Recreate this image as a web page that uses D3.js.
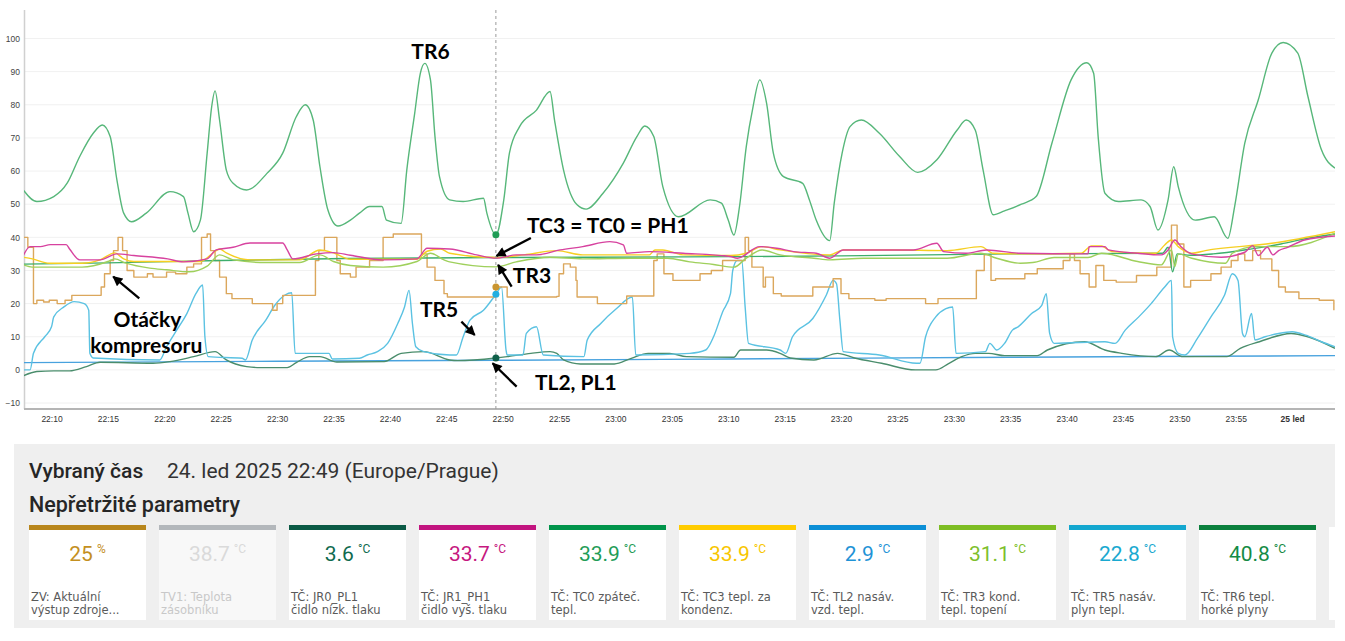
<!DOCTYPE html>
<html>
<head>
<meta charset="utf-8">
<script src="https://cdn.jsdelivr.net/npm/d3@7"></script>
<style>
  body { margin: 0; background: #ffffff; }
  svg { display: block; }
</style>
</head>
<body>
<script>
/* DATA (minutes after 22:00, 24. led 2025) */

// TR6 tepl. horké plyny
var tr6Minutes = [7.5, 8.7, 10.2, 11.4, 12.5, 13.7, 14.5, 15.2, 15.8, 16.4,
  17.1, 18.4, 20.5, 21.7, 22.1, 22.6, 23.2, 23.8, 24.2, 24.5,
  24.9, 25.5, 26.1, 27.3, 29.1, 30.5, 31.7, 32.5, 33.2, 33.8,
  34.5, 35.4, 36.5, 37.3, 38.2, 39.3, 39.7, 41.0, 41.5, 42.2,
  42.7, 43.1, 43.6, 44.0, 44.4, 45.3, 46.5, 48.3, 48.6, 49.4,
  50.1, 50.6, 51.5, 53.0, 54.2, 54.6, 55.4, 56.6, 57.4, 58.9,
  60.7, 61.9, 62.6, 63.4, 64.2, 65.6, 68.4, 69.4, 70.0, 70.5,
  71.0, 71.6, 72.2, 72.8, 73.4, 74.0, 74.9, 76.6, 77.2, 77.8,
  79.0, 79.4, 80.1, 80.8, 81.8, 83.4, 85.2, 86.8, 88.5, 90.3,
  91.1, 91.9, 92.6, 93.5, 94.5, 96.0, 97.3, 98.7, 100.4, 101.8,
  102.4, 102.8, 103.4, 104.6, 106.6, 107.4, 108.1, 109.0, 109.5, 109.9,
  111.4, 113.1, 114.3, 114.9, 115.8, 117.0, 118.2, 119.2, 120.5, 121.4,
  122.6, 123.8];
var tr6Values = [54.3, 50.8, 52.3, 56.4, 64.4, 71.4, 73.9, 70.4, 57.3, 47.3,
  44.7, 47.3, 53.8, 52.3, 47.3, 41.7, 45.2, 65.4, 79.4, 84.2,
  75.4, 60.3, 56.3, 54.3, 59.3, 65.4, 76.4, 80.0, 75.4, 61.3,
  48.3, 43.4, 45.2, 47.3, 49.3, 49.3, 45.2, 44.2, 60.3, 77.4,
  89.5, 92.5, 87.5, 70.4, 58.3, 51.3, 50.8, 51.8, 47.3, 40.7,
  51.3, 65.4, 73.4, 78.4, 84.0, 75.4, 60.3, 49.8, 48.5, 53.3,
  62.4, 70.4, 73.6, 70.4, 55.3, 46.2, 51.3, 50.3, 45.2, 40.7,
  49.3, 67.4, 79.4, 87.5, 80.5, 65.4, 58.3, 56.3, 51.3, 45.2,
  39.0, 50.3, 65.4, 73.4, 75.4, 71.4, 64.4, 59.6, 63.4, 72.4,
  75.4, 72.4, 60.3, 46.8, 48.0, 50.0, 52.3, 68.4, 87.5, 92.7,
  89.5, 70.4, 53.3, 50.8, 51.3, 49.3, 42.2, 51.3, 61.3, 55.3,
  45.2, 46.2, 39.7, 49.3, 68.4, 81.5, 95.6, 98.8, 95.6, 82.5,
  66.4, 60.9];

// TR5 nasáv. plyn tepl.
var tr5Minutes = [7.5, 8.1, 8.4, 9.4, 10, 10.2, 11.1, 12, 12.9, 13.3,
  13.4, 13.7, 19.6, 20.2, 21.1, 22, 22.8, 23.4, 23.6, 23.9,
  26.9, 27.2, 27.8, 29, 29.8, 30.7, 31.3, 31.6, 34.6, 34.9,
  37.3, 38, 38.9, 39.8, 40.7, 41.3, 41.7, 42, 42.3, 43,
  45.3, 45.9, 46.5, 47.1, 48.3, 49.4, 49.9, 50.3, 50.4, 51.8,
  52.1, 53, 53.6, 57.2, 57.5, 58.7, 60.1, 61.5, 61.8, 66.6,
  68, 68.7, 69.5, 70.2, 70.4, 70.8, 71.2, 71.5, 71.8, 74.6,
  75.1, 75.7, 77.5, 78.7, 79.3, 79.6, 79.9, 80.2, 83.4, 86.7,
  87, 87.5, 88.4, 89.3, 89.9, 90.2, 92.8, 93.2, 93.8, 94.5,
  95.2, 95.7, 96.9, 97.8, 98.2, 98.5, 98.9, 103.4, 104.3, 105.2,
  106.4, 107.5, 108.7, 109.3, 109.4, 109.9, 110.5, 111.6, 112.8, 114,
  114.7, 115.2, 115.6, 115.8, 116.4, 116.7, 117.6, 118.8, 120, 121.2,
  122.6, 123.8];
var tr5Values = [0, 0, 5, 10, 13, 16, 19, 20.6, 20, 18,
  5, 3.6, 3, 7, 12, 17, 23, 25.6, 10, 4,
  3.5, 3, 9, 15, 19.5, 22.6, 23.3, 5, 5, 3.3,
  3.5, 4.5, 5.5, 8, 14, 19, 24, 14, 7, 5.5,
  4.5, 4.5, 10, 15, 18, 22.8, 25, 6, 4.5, 4.5,
  11, 13, 4.5, 4, 9, 14, 18.5, 22, 4.5, 5,
  6, 10, 17.5, 23, 30, 33, 33, 19, 8, 6,
  5, 10, 15.5, 22.6, 27, 26, 15, 5.5, 4.5, 2,
  2, 10, 16, 18.5, 19, 5, 5.5, 8, 6, 8,
  12, 13, 17, 19.5, 23, 11, 8, 8.5, 8, 12,
  16, 20, 25, 27, 10, 5, 4.5, 9.5, 16, 22.5,
  29, 27, 11, 10, 17, 9, 10, 11, 11.5, 10.5,
  8.5, 7];

// ZV aktuální výstup zdroje (otáčky kompresoru), change points of a step line
var zvMinutes = [7.5, 7.9, 8.4, 8.7, 9.3, 9.8, 10.5, 11.2, 11.8, 14.4,
  14.7, 15.2, 15.5, 15.9, 16.3, 16.7, 17.3, 18.5, 19, 20.2,
  21, 22, 22.6, 23.3, 23.8, 24.1, 24.5, 24.9, 25.5, 26,
  27.8, 29.6, 30, 30.5, 33.4, 33.7, 34.2, 35.3, 35.6, 36.5,
  37, 38.2, 39.4, 40.3, 42.8, 43.3, 44, 44.8, 45.1, 49.4,
  50.4, 54.8, 55, 55.4, 56, 56.5, 56.6, 58.4, 61, 63.4,
  63.7, 64.3, 65.1, 67.5, 68.5, 69.5, 70.7, 71.5, 71.8, 72.1,
  73.1, 73.3, 74, 74.7, 77.5, 79.3, 80, 80.7, 83, 84,
  87.5, 88.6, 92, 92.7, 93.3, 93.7, 96.3, 97.4, 99.7, 100.3,
  100.7, 101.2, 102, 102.6, 103.3, 104.4, 106.2, 108, 109.3, 109.8,
  110.4, 111, 112.8, 113.7, 114.6, 115.2, 115.8, 116.5, 117.2, 118.2,
  118.8, 119.4, 120.6, 122.4, 123.7];
var zvValues = [40, 37, 20, 21, 20.5, 21, 20, 21, 22.5, 25,
  29, 33, 36, 40, 36, 30, 28, 29, 28, 29.5,
  29, 31, 32, 40, 41, 36, 33, 28, 23, 21.5,
  20, 18, 20, 22.5, 33, 36, 40, 33, 29, 28,
  31, 33, 40, 41, 35, 31, 27, 23, 22, 25,
  22, 22.2, 29, 32, 31, 27, 22, 20, 22.3, 33,
  35, 29, 27, 29, 30, 33, 33, 40, 36, 31,
  25, 28, 23, 22.3, 25, 27.5, 23, 21.5, 21, 21.5,
  20, 21.5, 30, 34.7, 27, 27.5, 29, 30.5, 33, 35,
  33, 29, 25, 31.5, 27, 26.5, 28.5, 31, 43.7, 38,
  25, 27, 29, 31, 33, 35, 33, 36, 33.5, 30,
  25, 23.5, 21.5, 21, 18];

// JR0_PL1 čidlo nízk. tlaku
var pl1Minutes = [7.5, 8.7, 10.2, 11.6, 13.1, 14.3, 19, 20.5, 22.6, 24.5,
  25.5, 27.3, 28.5, 30.9, 31.7, 32.9, 33.8, 35.3, 39.5, 41,
  43, 45.3, 46, 49.4, 50.4, 52.5, 54.2, 54.8, 55.4, 56.9,
  59.9, 61.4, 62.9, 64.8, 66.3, 70.5, 71.1, 73.4, 74.6, 75.5,
  77.6, 79.7, 81.2, 83.6, 86.6, 88.4, 89.5, 90.7, 91.9, 93.1,
  94.5, 97.4, 98.3, 101.6, 103.4, 104.9, 107.9, 109.1, 110.3, 114.2,
  115.4, 117.1, 119.9, 121.4, 123.8];
var pl1Values = [-1.8, -0.5, -0.3, -0.3, 1, 2.3, 2, 2.5, 4, 5.5,
  3, 1, 0.7, 0.7, 2.2, 4, 4, 2.4, 2.5, 5,
  5.5, 3, 2.8, 3.6, 4, 5, 5.5, 5, 3, 1.8,
  1.8, 3.5, 5, 5, 4, 3.8, 6, 6, 5, 3.6,
  3, 5, 3.6, 2, 0, 0, 1.8, 4, 5, 5,
  4.3, 4.3, 6, 8.5, 6, 5, 4, 6, 4, 4,
  6.5, 8.5, 11, 10, 6.5];

// TL2 nasáv. vzd. tepl.
var tl2Minutes = [7.5, 30, 49.4, 70, 95, 123.8];
var tl2Values = [2.2, 2.6, 2.9, 3.3, 3.8, 4.3];

// JR1_PH1 čidlo vyš. tlaku
var ph1Minutes = [7.5, 8.1, 9, 9.9, 11.3, 11.6, 12.5, 14.3, 15.8, 17.3,
  20.3, 21.7, 23.8, 24.6, 26.1, 27.6, 30.5, 30.9, 31.4, 33.5,
  35, 36.5, 39.4, 42.4, 43.3, 45.3, 47.7, 49.4, 51.2, 53,
  55.1, 57.1, 59.5, 60.7, 61, 63, 66, 70.2, 70.8, 72.8,
  74.3, 75.8, 77.8, 79, 80.2, 86.4, 88.5, 89.1, 91.1, 92.9,
  95.9, 101.9, 102, 103.4, 103.7, 106.3, 108.4, 109, 109.6, 110.2,
  111.1, 113.7, 115.8, 116.5, 117, 117.8, 118.3, 118.8, 119.6, 121.1,
  123.8];
var ph1Values = [34.5, 37.2, 37.2, 37.8, 37.8, 36.5, 33.2, 33.2, 35, 34.5,
  33.5, 32.6, 33.5, 36.2, 37, 38.3, 38.3, 36.2, 33.5, 35,
  35.4, 34.6, 33.2, 33.5, 36.7, 36.5, 34.7, 33.7, 34.7, 34.7,
  36.2, 37.2, 38.7, 37.7, 35.2, 35.7, 35.2, 34.2, 33.7, 37.2,
  36.7, 35.7, 35.2, 33.7, 36.2, 36.2, 38.2, 35.7, 35.2, 36.2,
  35.2, 35, 37.2, 37.2, 36.2, 35.2, 34.7, 36.2, 39.2, 37,
  35, 34, 35.5, 37.5, 34.5, 37, 34.7, 36, 37, 39.2,
  40.4];

// TC0 zpáteč. tepl.
var tc0Minutes = [7.5, 15, 25, 36, 49.4, 66, 80, 95, 108.5, 109,
  109.4, 109.8, 111, 113, 116, 119, 121.5, 123.8];
var tc0Values = [31.9, 32.3, 33, 33.6, 33.9, 34.1, 34.4, 35, 35.2, 37,
  29.6, 35, 34.6, 35, 36.3, 38, 39.8, 41];

// TC3 tepl. za kondenz.
var tc3Minutes = [7.5, 8.3, 9.8, 12.7, 14.3, 15.6, 16.4, 17.3, 23.2, 24.4,
  24.9, 25.5, 27.6, 32, 33.8, 35, 36.5, 42.4, 43.3, 44.5,
  45.3, 49.4, 51.9, 54.8, 57.1, 63, 63.5, 64.2, 66, 70.2,
  71.6, 73, 74.6, 79, 80.2, 84.6, 89.4, 92.4, 93.5, 95.9,
  101.3, 102.2, 103.1, 104, 107.9, 108.7, 109.3, 109.9, 111.1, 112.3,
  118.2, 123.8];
var tc3Values = [34, 33.5, 32.2, 32.2, 33.2, 35.3, 33.5, 32.7, 32.7, 35.5,
  36.5, 35.3, 33.2, 33.2, 36.2, 35.3, 33.4, 33.4, 35.8, 36.5,
  35.2, 33.9, 34.7, 36, 34.7, 34.7, 36.2, 36.2, 34.7, 34.5,
  35.2, 37.2, 36.2, 34.7, 36.2, 36.2, 36, 37.2, 35.2, 35,
  35.2, 37.4, 37.4, 35.7, 35.2, 37.7, 39.2, 37.2, 35.2, 36,
  38.2, 41.7];

// TR3 kond. tepl. topení
var tr3Minutes = [7.5, 8.3, 12.7, 15, 15.6, 16.6, 18.7, 20.2, 22.2, 23.8,
  24.9, 26.1, 29, 32, 33.8, 35, 36.5, 39.4, 42.4, 43.6,
  44.8, 45.3, 49.4, 51.2, 54.2, 57.1, 61.5, 64.6, 66.6, 68.7,
  70.5, 71.6, 73, 74.6, 77.6, 79, 82, 89.4, 92.4, 93.8,
  95.9, 97, 98.9, 101.9, 103.1, 106.3, 108.4, 109.3, 109.6, 109.9,
  111.1, 114.1, 114.7, 116.7, 119.6, 123.8];
var tr3Values = [31.7, 31, 31, 32.7, 33.5, 32.2, 30.7, 30.2, 29.6, 31.3,
  34.7, 33.2, 32.4, 32.4, 34.7, 32.7, 31.5, 31, 32.7, 35.2,
  33.2, 32.6, 31.1, 32.6, 34, 33.5, 33.7, 33.7, 32.6, 31.8,
  31, 33.7, 36.2, 34.7, 33.7, 33.2, 33.7, 33.7, 35.2, 33.7,
  32.2, 32.4, 33.9, 33.9, 35.2, 32.7, 31.7, 36.2, 31.2, 35,
  33.7, 32.2, 35.2, 37.2, 37.2, 41.2];

// axis ticks
var yTickValues = [-10, 0, 10, 20, 30, 40, 50, 60, 70, 80, 90, 100];
var xTickMinutes = [10, 15, 20, 25, 30, 35, 40, 45, 50, 55, 60, 65, 70, 75, 80, 85, 90, 95,
  100, 105, 110, 115, 120];

// selected time (22:49) and the values shown in the cards
var cursorMinute = 49.4;
var cardValues = ['25', '38.7', '3.6', '33.7', '33.9', '33.9', '2.9', '31.1', '22.8', '40.8'];
var cardUnits = ['%', '°C', '°C', '°C', '°C', '°C', '°C', '°C', '°C', '°C'];
var cardLabels1 = ['ZV: Aktuální', 'TV1: Teplota', 'TČ: JR0_PL1', 'TČ: JR1_PH1', 'TČ: TC0 zpáteč.',
  'TČ: TC3 tepl. za', 'TČ: TL2 nasáv.', 'TČ: TR3 kond.', 'TČ: TR5 nasáv.', 'TČ: TR6 tepl.'];
var cardLabels2 = ['výstup zdroje...', 'zásobníku', 'čidlo nízk. tlaku', 'čidlo vyš. tlaku', 'tepl.',
  'kondenz.', 'vzd. tepl.', 'tepl. topení', 'plyn tepl.', 'horké plyny'];

// annotations
var noteTexts = ['TR6', 'TC3 = TC0 = PH1', 'TR3', 'TR5', 'Otáčky', 'kompresoru', 'TL2, PL1'];
var noteMinutes = [43.6, 52.15, 50.9, 42.67, 18.5, 18.4, 52.86];
var noteValues = [93.75, 41.2, 26.1, 16.06, 12.95, 5.1, -6.07];
var noteAnchors = ['middle', 'start', 'start', 'start', 'middle', 'middle', 'start'];
var arrowFromMinutes = [52.5, 50.8, 46.34, 51.24, 17.78];
var arrowFromValues = [39.8, 25.1, 14.55, -5.07, 21.61];
var arrowToMinutes = [49.45, 49.6, 47.52, 49.11, 15.47];
var arrowToValues = [34.4, 31.7, 10.53, 1.99, 28.13];


/* STYLE */
var width = 1345;
var height = 641;
var plotLeft = 24, plotRight = 1335, plotTop = 10, plotBottom = 409;
var tickFont = "'Liberation Sans Narrow', 'Liberation Sans', Arial, sans-serif";
var uiFont = "Roboto, 'Noto Sans', sans-serif";
var noteFont = "Lato, 'Open Sans', sans-serif";

var cardBarColors = ['#b8861c', '#b3b7bb', '#0b5a45', '#c2147f', '#00944a', '#ffcc00', '#0c8fd6', '#7dbd23', '#13a7cf', '#0b803d'];
var cardValueColors = ['#c4901f', '#dadada', '#0f6b4f', '#c6187f', '#1f9d58', '#f8c600', '#1f93d6', '#7ebf2c', '#1aa9d0', '#158b45'];


/* SETUP */
var base = new Date(2025, 0, 24, 22, 0, 0);
var toTime = m => new Date(base.getTime() + m * 60000);

var x = d3.scaleTime()
    .domain([toTime(7.56), toTime(123.8)])
    .range([plotLeft, plotRight]);
var y = d3.scaleLinear()
    .domain([-11.8, 108.6])
    .range([plotBottom, plotTop]);

// drawing order matches the reference layering
var series = [
    { mins: tr6Minutes, vals: tr6Values, color: '#57b77a', curve: d3.curveMonotoneX },
    { mins: tl2Minutes, vals: tl2Values, color: '#48a2de', curve: d3.curveMonotoneX },
    { mins: pl1Minutes, vals: pl1Values, color: '#4a8d6c', curve: d3.curveMonotoneX },
    { mins: tr5Minutes, vals: tr5Values, color: '#5bc2e2', curve: d3.curveMonotoneX },
    { mins: zvMinutes, vals: zvValues, color: '#dba75c', curve: d3.curveStepAfter },
    { mins: tc0Minutes, vals: tc0Values, color: '#3dae6c', curve: d3.curveMonotoneX },
    { mins: tr3Minutes, vals: tr3Values, color: '#9fd05c', curve: d3.curveMonotoneX },
    { mins: tc3Minutes, vals: tc3Values, color: '#f6cf22', curve: d3.curveMonotoneX },
    { mins: ph1Minutes, vals: ph1Values, color: '#d7429f', curve: d3.curveMonotoneX }
];

// dots on the cursor: TR6, ZV, TR5, PL1 (taken from the card values)
var dotCards = [9, 0, 8, 2];
var dotColors = ['#1f9d55', '#c99530', '#22aee0', '#10604a'];


/* SVG */
const svg = d3.select('body').append('svg')
    .attr('width', width)
    .attr('height', height);

const defs = svg.append('defs');
defs.append('clipPath').attr('id', 'plotClip').append('rect')
    .attr('x', plotLeft).attr('y', plotTop)
    .attr('width', plotRight - plotLeft).attr('height', plotBottom - plotTop);
defs.append('marker')
    .attr('id', 'arrowHead')
    .attr('viewBox', '0 0 10 10')
    .attr('refX', 9).attr('refY', 5)
    .attr('markerWidth', 11).attr('markerHeight', 10)
    .attr('markerUnits', 'userSpaceOnUse')
    .attr('orient', 'auto')
    .append('path')
    .attr('d', 'M0,0 L10,5 L0,10 z')
    .attr('fill', '#000');

// grid
svg.append('g').selectAll('line').data(yTickValues).join('line')
    .attr('x1', plotLeft).attr('x2', plotRight)
    .attr('y1', d => y(d)).attr('y2', d => y(d))
    .attr('stroke', '#f1f1f1').attr('stroke-width', 1);

// y axis
const yAxis = svg.append('g')
    .attr('transform', `translate(${plotLeft},0)`)
    .call(d3.axisLeft(y).tickValues(yTickValues).tickSize(0).tickPadding(4));
yAxis.select('.domain').remove();
yAxis.selectAll('text').style('font', `8.5px ${tickFont}`).attr('fill', '#444');
svg.append('line')
    .attr('x1', plotLeft + 0.5).attr('x2', plotLeft + 0.5)
    .attr('y1', plotTop).attr('y2', plotBottom)
    .attr('stroke', '#d0d0d0').attr('stroke-width', 1.5);

// x axis
const fmt = d3.timeFormat('%H:%M');
const xAxis = svg.append('g')
    .attr('transform', `translate(0,${plotBottom})`)
    .call(d3.axisBottom(x)
        .tickValues(xTickMinutes.map(toTime))
        .tickSize(0).tickPadding(7)
        .tickFormat(d => d.getHours() === 0 && d.getMinutes() === 0 ? '25 led' : fmt(d)));
xAxis.select('.domain').remove();
xAxis.selectAll('text')
    .style('font', `8.5px ${tickFont}`)
    .attr('fill', '#333')
    .style('font-weight', d => d.getHours() === 0 ? 'bold' : 'normal');
svg.append('line')
    .attr('x1', plotLeft).attr('x2', plotRight)
    .attr('y1', plotBottom).attr('y2', plotBottom)
    .attr('stroke', '#b5b5b5').attr('stroke-width', 2);

// series lines
const lineGroup = svg.append('g').attr('clip-path', 'url(#plotClip)');
series.forEach(s => {
    const line = d3.line()
        .x((d, i) => x(toTime(s.mins[i])))
        .y(d => y(d))
        .curve(s.curve);
    lineGroup.append('path')
        .attr('d', line(s.vals))
        .attr('fill', 'none')
        .attr('stroke', s.color)
        .attr('stroke-width', 1.4)
        .attr('stroke-linejoin', 'round');
});

// cursor
const cx = x(toTime(cursorMinute));
svg.append('line')
    .attr('x1', cx).attr('x2', cx)
    .attr('y1', plotTop).attr('y2', plotBottom)
    .attr('stroke', '#9a9a9a').attr('stroke-width', 1)
    .attr('stroke-dasharray', '3,3');
svg.append('g').selectAll('circle').data(dotCards).join('circle')
    .attr('cx', cx)
    .attr('cy', d => y(+cardValues[d]))
    .attr('r', 3.5)
    .attr('fill', (d, i) => dotColors[i]);

// annotations
const notes = svg.append('g');
notes.selectAll('line').data(arrowFromMinutes).join('line')
    .attr('x1', (d, i) => x(toTime(d)))
    .attr('y1', (d, i) => y(arrowFromValues[i]))
    .attr('x2', (d, i) => x(toTime(arrowToMinutes[i])))
    .attr('y2', (d, i) => y(arrowToValues[i]))
    .attr('stroke', '#000').attr('stroke-width', 2.3)
    .attr('marker-end', 'url(#arrowHead)');
notes.selectAll('text').data(noteTexts).join('text')
    .attr('x', (d, i) => x(toTime(noteMinutes[i])))
    .attr('y', (d, i) => y(noteValues[i]))
    .attr('text-anchor', (d, i) => noteAnchors[i])
    .style('font', `bold 21px ${noteFont}`)
    .attr('fill', '#000')
    .text(d => d);


/* SELECTED-TIME PANEL */
const panel = svg.append('g');
panel.append('rect')
    .attr('x', 14).attr('y', 444)
    .attr('width', 1321).attr('height', 184)
    .attr('fill', '#efefef');

const title = panel.append('text')
    .attr('x', 29).attr('y', 478)
    .style('font-family', uiFont).style('font-size', '21px')
    .attr('fill', '#262626');
title.append('tspan').style('font-weight', 500).text('Vybraný čas');
title.append('tspan').attr('x', 167).style('font-weight', 400).attr('fill', '#333')
    .text('24. led 2025 22:49 (Europe/Prague)');

panel.append('text')
    .attr('x', 29).attr('y', 512)
    .style('font-family', uiFont).style('font-size', '21.5px').style('font-weight', 500)
    .attr('fill', '#262626')
    .text('Nepřetržité parametry');

var cardX0 = 29, cardPitch = 130, cardW = 117;
const cards = panel.selectAll('g.card').data(cardValues).join('g')
    .attr('class', 'card')
    .attr('transform', (d, i) => `translate(${cardX0 + i * cardPitch},525)`);
cards.append('rect')
    .attr('y', 5).attr('width', cardW).attr('height', 90)
    .attr('fill', (d, i) => i === 1 ? '#f8f8f8' : '#ffffff');
cards.append('rect')
    .attr('width', cardW).attr('height', 5)
    .attr('fill', (d, i) => cardBarColors[i]);
const valueText = cards.append('text')
    .attr('x', cardW / 2).attr('y', 36)
    .attr('text-anchor', 'middle')
    .style('font-family', uiFont)
    .attr('fill', (d, i) => cardValueColors[i]);
valueText.append('tspan').style('font-size', '21px').text(d => d);
valueText.append('tspan').attr('dx', 4).attr('dy', -8).style('font-size', '12px')
    .text((d, i) => cardUnits[i]);
cards.append('text')
    .attr('x', 2).attr('y', 76)
    .style('font', "11.5px 'DejaVu Sans', sans-serif")
    .attr('fill', (d, i) => i === 1 ? '#c8c8c8' : '#5a5a5a')
    .text((d, i) => cardLabels1[i]);
cards.append('text')
    .attr('x', 2).attr('y', 89)
    .style('font', "11.5px 'DejaVu Sans', sans-serif")
    .attr('fill', (d, i) => i === 1 ? '#c8c8c8' : '#5a5a5a')
    .text((d, i) => cardLabels2[i]);

// next card peeking at the right edge
panel.append('rect')
    .attr('x', cardX0 + 10 * cardPitch).attr('y', 527)
    .attr('width', 1335 - (cardX0 + 10 * cardPitch)).attr('height', 93)
    .attr('fill', '#ffffff');
</script>
</body>
</html>
